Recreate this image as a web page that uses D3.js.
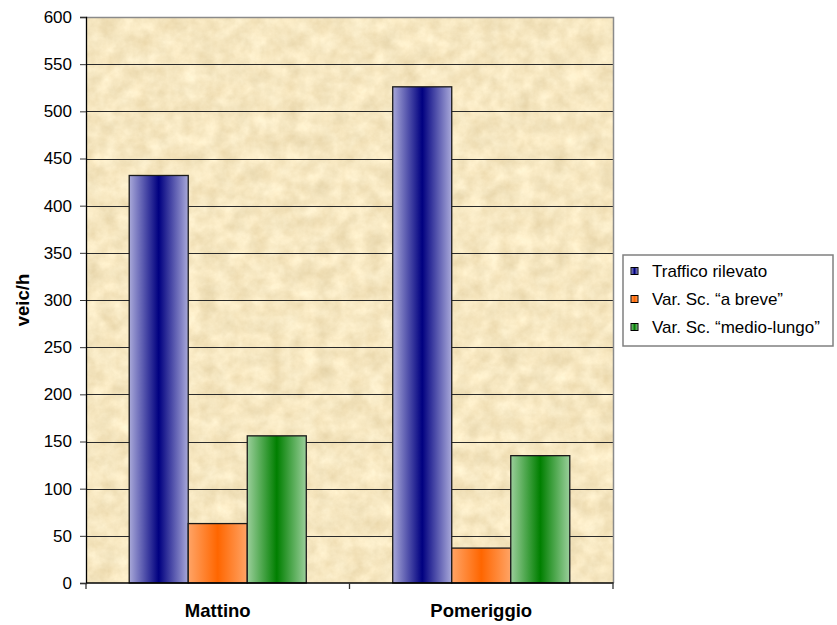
<!DOCTYPE html>
<html>
<head>
<meta charset="utf-8">
<script src="https://cdn.jsdelivr.net/npm/d3@7"></script>
<style>
  html, body { margin: 0; padding: 0; background: #fff; }
  svg { display: block; font-family: "Liberation Sans", Arial, sans-serif; }
</style>
</head>
<body>
<svg id="chart" width="837" height="625"></svg>
<script>
// Traffic counts per time slot and scenario (vehicles per hour)
const categories = ["Mattino", "Pomeriggio"];
const seriesNames = ["Traffico rilevato", "Var. Sc. \u201ca breve\u201d", "Var. Sc. \u201cmedio-lungo\u201d"];
const trafficoRilevato = [432, 526];
const varBreve = [63, 37];
const varMedioLungo = [156, 135];
const yTicks = [0, 50, 100, 150, 200, 250, 300, 350, 400, 450, 500, 550, 600];
const yLabel = "veic/h";

const seriesValues = [trafficoRilevato, varBreve, varMedioLungo];
const seriesColors = [
  { edge: "#a9a9d9", mid: "#000080" },
  { edge: "#ffa466", mid: "#ff6600" },
  { edge: "#9bcf9b", mid: "#007f00" }
];

const svg = d3.select("#chart");
const plot = { left: 86, right: 613, top: 17, bottom: 583 };

const defs = svg.append("defs");

// Cylinder-like shading for each series
seriesColors.forEach((c, i) => {
  const g = defs.append("linearGradient")
    .attr("id", "grad" + i)
    .attr("x1", "0%").attr("x2", "100%").attr("y1", "0%").attr("y2", "0%");
  g.append("stop").attr("offset", "0%").attr("stop-color", c.edge);
  g.append("stop").attr("offset", "50%").attr("stop-color", c.mid);
  g.append("stop").attr("offset", "100%").attr("stop-color", c.edge);
});

// Parchment texture for the plot background: noise mapped to warm beige tones
const tex = defs.append("filter").attr("id", "parchment")
  .attr("x", 0).attr("y", 0).attr("width", "100%").attr("height", "100%")
  .attr("color-interpolation-filters", "sRGB");
tex.append("feTurbulence")
  .attr("type", "fractalNoise").attr("baseFrequency", "0.06")
  .attr("numOctaves", 5).attr("seed", 11).attr("result", "noise");
tex.append("feColorMatrix").attr("in", "noise").attr("type", "matrix")
  .attr("values",
    "0.12 0.04 0 0 0.885 " +
    "0.15 0.03 0 0 0.815 " +
    "0.20 0.02 0 0 0.645 " +
    "0 0 0 0 1")
  .attr("result", "paper");
tex.append("feComposite").attr("in", "paper").attr("in2", "SourceGraphic").attr("operator", "in");

const x0 = d3.scaleBand().domain(categories).range([plot.left, plot.right]).padding(0);
const bw = x0.bandwidth();
const x1 = d3.scaleBand().domain(d3.range(seriesNames.length))
  .range([bw * 0.164, bw * 0.836]).padding(0);
const y = d3.scaleLinear().domain([0, 600]).range([plot.bottom, plot.top]);

// Plot background
svg.append("rect")
  .attr("x", plot.left).attr("y", plot.top)
  .attr("width", plot.right - plot.left).attr("height", plot.bottom - plot.top)
  .attr("fill", "#f1e4c3")
  .attr("filter", "url(#parchment)");

// Gridlines
svg.append("g").selectAll("line")
  .data(yTicks.filter(t => t > 0 && t < 600))
  .join("line")
  .attr("x1", plot.left).attr("x2", plot.right)
  .attr("y1", d => Math.round(y(d)) + 0.5).attr("y2", d => Math.round(y(d)) + 0.5)
  .attr("stroke", "#2a2a2a").attr("stroke-width", 1.2);

// Plot frame (top and right)
svg.append("path")
  .attr("d", `M${plot.left},${plot.top + 0.5}H${plot.right + 0.5}V${plot.bottom}`)
  .attr("fill", "none").attr("stroke", "#8a8a8a").attr("stroke-width", 1.5);

// Bars
const groups = svg.append("g").selectAll("g")
  .data(categories)
  .join("g")
  .attr("transform", d => `translate(${x0(d)},0)`);

groups.selectAll("rect")
  .data((d, ci) => seriesValues.map((vals, si) => ({ si, v: vals[ci] })))
  .join("rect")
  .attr("x", d => x1(d.si))
  .attr("width", x1.bandwidth())
  .attr("y", d => y(d.v))
  .attr("height", d => y(0) - y(d.v))
  .attr("fill", d => `url(#grad${d.si})`)
  .attr("stroke", "#1a1a1a").attr("stroke-width", 1.3);

// Y axis
const yAxis = d3.axisLeft(y).tickValues(yTicks).tickSize(6).tickPadding(8);
const ya = svg.append("g").attr("transform", `translate(${plot.left},0)`).call(yAxis);
ya.select(".domain").attr("stroke", "#000").attr("stroke-width", 1.3);
ya.selectAll(".tick line").attr("stroke", "#333");
ya.selectAll(".tick text")
  .attr("font-size", 17).attr("fill", "#000")
  .attr("font-family", "Liberation Sans, Arial, sans-serif");

// X axis with ticks at the category boundaries
const xa = svg.append("g").attr("transform", `translate(0,${plot.bottom})`);
xa.append("line").attr("x1", plot.left).attr("x2", plot.right + 0.5)
  .attr("stroke", "#000").attr("stroke-width", 1.3);
const bounds = [plot.left, ...categories.map(c => x0(c) + bw)];
xa.selectAll("line.tk").data(bounds).join("line").attr("class", "tk")
  .attr("x1", d => d).attr("x2", d => d).attr("y1", 0).attr("y2", 6)
  .attr("stroke", "#333").attr("stroke-width", 1.3);
xa.selectAll("text").data(categories).join("text")
  .attr("x", d => x0(d) + bw / 2).attr("y", 34)
  .attr("text-anchor", "middle")
  .attr("font-size", 18.5).attr("font-weight", "bold").attr("fill", "#000")
  .text(d => d);

// Y axis title
svg.append("text")
  .attr("transform", `translate(29,${(plot.top + plot.bottom) / 2}) rotate(-90)`)
  .attr("text-anchor", "middle")
  .attr("font-size", 18.5).attr("font-weight", "bold")
  .text(yLabel);

// Legend
const legend = svg.append("g").attr("transform", "translate(623,255)");
legend.append("rect").attr("x", 0).attr("y", 0).attr("width", 210).attr("height", 91)
  .attr("fill", "#fff").attr("stroke", "#808080").attr("stroke-width", 1.5);
const items = legend.selectAll("g.item").data(seriesNames).join("g").attr("class", "item")
  .attr("transform", (d, i) => `translate(0,${16 + i * 28})`);
items.append("rect").attr("x", 8).attr("y", -3.5).attr("width", 7).attr("height", 7)
  .attr("fill", (d, i) => `url(#grad${i})`).attr("stroke", "#000").attr("stroke-width", 1);
items.append("text").attr("x", 29).attr("y", 6)
  .attr("font-size", 17).attr("fill", "#000")
  .text(d => d);
</script>
</body>
</html>
